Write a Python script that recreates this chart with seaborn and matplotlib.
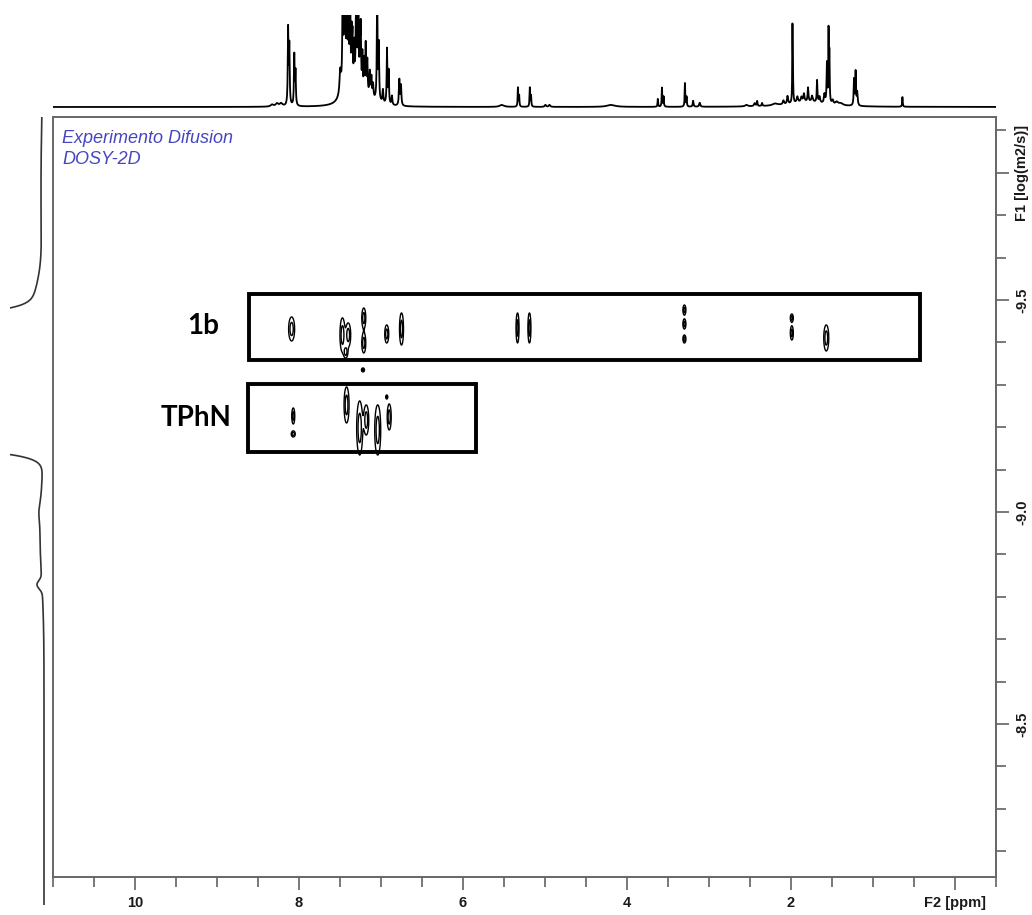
import numpy as np
import pandas as pd
import seaborn as sns
import matplotlib
matplotlib.use("Agg")
import matplotlib.pyplot as plt
from matplotlib.patches import Rectangle

# ---------------- data ----------------
# 1H spectrum (top trace): line positions (ppm), heights, half-widths (ppm)
h_ppm = [8.33, 8.27, 8.22, 8.135, 8.12, 8.06, 8.045,
         7.50, 7.47, 7.45, 7.44, 7.42, 7.40, 7.38, 7.36, 7.35, 7.33, 7.31, 7.30,
         7.28, 7.26, 7.25, 7.23, 7.21, 7.19, 7.17, 7.14, 7.12, 7.10, 7.05, 7.03,
         6.98, 6.93, 6.91, 6.87, 6.78, 6.76,
         7.45, 7.32, 7.18, 7.05,
         5.53, 5.335, 5.32, 5.19, 5.175, 5.00, 4.95, 4.20,
         3.63, 3.58, 3.56, 3.30, 3.28, 3.20, 3.12,
         2.55, 2.45, 2.42, 2.36, 2.20, 2.10, 2.05, 1.99, 1.985, 1.93, 1.88,
         1.85, 1.80, 1.75, 1.69, 1.66, 1.60, 1.57, 1.55, 1.54, 1.50, 1.45,
         1.40, 1.80, 1.24, 1.22, 1.20, 0.65]
h_height = [2, 3, 3, 76, 58, 50, 33,
            22, 110, 100, 60, 120, 90, 110, 50, 45, 40, 50, 75,
            110, 45, 60, 38, 32, 48, 32, 24, 20, 14, 110, 55,
            13, 55, 33, 9, 26, 20,
            20, 13, 8, 3,
            2, 19, 11, 19, 11, 2, 2, 2,
            8, 19, 10, 24, 10, 6, 4,
            1.5, 3, 5, 3, 2, 4, 8, 72, 30, 6, 5,
            8, 14, 6, 22, 6, 9, 40, 72, 50, 4, 3,
            2, 5, 26, 34, 13, 10]
h_width = [0.02, 0.02, 0.02, 0.005, 0.005, 0.005, 0.005,
           0.01, 0.005, 0.005, 0.005, 0.005, 0.005, 0.005, 0.005, 0.005, 0.005, 0.005, 0.005,
           0.005, 0.005, 0.005, 0.005, 0.005, 0.005, 0.005, 0.006, 0.006, 0.006, 0.005, 0.005,
           0.006, 0.005, 0.005, 0.006, 0.006, 0.006,
           0.05, 0.06, 0.06, 0.08,
           0.03, 0.004, 0.004, 0.004, 0.004, 0.01, 0.01, 0.06,
           0.004, 0.004, 0.004, 0.004, 0.004, 0.006, 0.008,
           0.02, 0.01, 0.005, 0.006, 0.04, 0.01, 0.008, 0.003, 0.004, 0.01, 0.01,
           0.008, 0.006, 0.01, 0.005, 0.008, 0.008, 0.005, 0.003, 0.004, 0.01, 0.02,
           0.03, 0.25, 0.005, 0.005, 0.006, 0.004]

# DOSY cross peaks: ppm, log D, spread in log D, spread in ppm
c_ppm = [8.09, 7.47, 7.40, 7.43, 7.21, 7.21, 6.93, 6.75, 5.335, 5.19,
         3.30, 3.30, 3.30, 1.99, 1.99, 1.57, 7.22,
         8.07, 8.07, 7.42, 7.26, 7.18, 7.04, 6.90, 6.93]
c_logd = [-9.4316, -9.4175, -9.4175, -9.3774, -9.4575, -9.3986, -9.4198, -9.4316, -9.434, -9.434,
          -9.4764, -9.4434, -9.408, -9.4575, -9.4222, -9.4104, -9.335,
          -9.2264, -9.184, -9.2524, -9.1981, -9.217, -9.1934, -9.2241, -9.2712]
c_sd = [0.0183, 0.0259, 0.0183, 0.0091, 0.0152, 0.0152, 0.0137, 0.0244, 0.0228, 0.0228,
        0.0076, 0.0076, 0.0061, 0.0061, 0.0107, 0.0198, 0.0030,
        0.0122, 0.0046, 0.0274, 0.0411, 0.0228, 0.0381, 0.0198, 0.0030]
c_sp = [0.0236, 0.0197, 0.0197, 0.0157, 0.0157, 0.0157, 0.0157, 0.0157, 0.0118, 0.0118,
        0.0118, 0.0118, 0.0118, 0.0118, 0.0118, 0.0197, 0.0118,
        0.0118, 0.0157, 0.0197, 0.0236, 0.0197, 0.0236, 0.0157, 0.0079]

# F1 projection (left trace): log D centre, width, amplitude
p_logd = [-9.4057, -9.4528, -9.76, -9.304, -9.2028, -8.95, -8.828, -9.0]
p_sd = [0.0283, 0.066, 0.21, 0.05, 0.0283, 0.106, 0.0094, 0.02]
p_amp = [600, 12, 3, 300, 600, 4, 5, 1.5]

# species boxes (ppm left, ppm right, logD top, logD bottom) and labels
species = ["1b", "TPhN"]
box_ppm_left = [8.613, 8.625]
box_ppm_right = [0.428, 5.836]
box_logd_top = [-9.514, -9.302]
box_logd_bottom = [-9.358, -9.142]
label_ppm = [9.17, 9.25]
label_logd = [-9.439, -9.222]

x_ticks = [10, 8, 6, 4, 2, 0]
x_ticklabels = ["10", "8", "6", "4", "2", "F2 [ppm]"]
y_ticks = [-9.8, -9.5, -9.0, -8.5]
y_ticklabels = ["F1 [log(m2/s)]", "-9.5", "-9.0", "-8.5"]

XLIM = (11.0, -0.49)
YTOP, YBOT = -9.9316, -8.139

# ---------------- derived traces ----------------
ppm_axis = np.linspace(XLIM[1], XLIM[0], 7000)
spec = np.zeros_like(ppm_axis)
for c, h, w in zip(h_ppm, h_height, h_width):
    spec += h / (1 + ((ppm_axis - c) / w) ** 2)
spec_df = pd.DataFrame({"ppm": ppm_axis, "I": spec})

logd_axis = np.linspace(-9.928, -8.075, 3000)
proj = np.zeros_like(logd_axis)
for c, s, a in zip(p_logd, p_sd, p_amp):
    proj += a * np.exp(-0.5 * ((logd_axis - c) / s) ** 2)
proj_df = pd.DataFrame({"logd": logd_axis, "I": proj})

gp = np.linspace(0.3, 8.8, 4200)
gd = np.linspace(-9.53, -9.12, 520)
PP, DD = np.meshgrid(gp, gd)
Z = np.zeros_like(PP)
for cp, cd, sd, sp in zip(c_ppm, c_logd, c_sd, c_sp):
    Z += np.exp(-0.5 * (((PP - cp) / sp) ** 2 + ((DD - cd) / sd) ** 2))

# ---------------- figure ----------------
sns.set_theme(style="white")
plt.rcParams["font.family"] = ["Liberation Sans", "DejaVu Sans"]

W, H = 1032, 915
fig = plt.figure(figsize=(W / 100, H / 100), dpi=100)

def fr(x0, y0, x1, y1):
    return [x0 / W, 1 - y1 / H, (x1 - x0) / W, (y1 - y0) / H]

ax = fig.add_axes(fr(53, 117, 996, 877))
ax_top = fig.add_axes(fr(53, 15, 996, 110))
ax_left = fig.add_axes(fr(10, 117, 50, 905))

# main contour plot
ax.contour(PP, DD, Z, levels=[0.3, 0.7], colors="black", linewidths=1.0)
ax.set_xlim(*XLIM)
ax.set_ylim(YBOT, YTOP)

for i in range(len(species)):
    x0 = box_ppm_right[i]
    wdt = box_ppm_left[i] - box_ppm_right[i]
    y0 = box_logd_top[i]
    hgt = box_logd_bottom[i] - box_logd_top[i]
    ax.add_patch(Rectangle((x0, y0), wdt, hgt, fill=False, ec="black", lw=2.8, zorder=5))
    ax.text(label_ppm[i], label_logd[i], species[i], family=["Lato", "DejaVu Sans"],
            fontweight="bold", fontsize=20, ha="center", va="center", color="black")

ax.text(0.0095, 0.983, "Experimento Difusion\nDOSY-2D", transform=ax.transAxes,
        ha="left", va="top", fontsize=13, fontstyle="italic", color="#4646c0",
        linespacing=1.3)

ax.set_xticks(x_ticks)
ax.set_xticklabels(x_ticklabels)
ax.set_xticks(np.arange(-0.5, 11.01, 0.5), minor=True)
ax.yaxis.tick_right()
ax.set_yticks(y_ticks)
ax.set_yticklabels(y_ticklabels, rotation=90, va="center")
ax.set_yticks(np.round(np.arange(-9.9, -8.15, 0.1), 1), minor=True)
ax.tick_params(axis="both", which="major", length=9, width=1.1, color="#555555",
               direction="out", labelsize=10.5, labelcolor="#1a1a1a")
ax.tick_params(axis="both", which="minor", length=7, width=1.1, color="#555555",
               direction="out")
ax.tick_params(axis="x", which="major", pad=5)
ax.tick_params(axis="y", which="major", pad=5)
ax.tick_params(bottom=True, right=True, left=False, top=False, which="both")
for lab in ax.get_xticklabels() + ax.get_yticklabels():
    lab.set_fontweight("bold")
for sp in ax.spines.values():
    sp.set_color("#666666")
    sp.set_linewidth(1.4)
ax.set_xlabel("")
ax.set_ylabel("")

# top 1D trace
sns.lineplot(data=spec_df, x="ppm", y="I", ax=ax_top, color="black", lw=1.3,
             estimator=None, sort=False)
ax_top.set_xlim(*XLIM)
ax_top.set_ylim(-3, 92)
ax_top.axis("off")

# left projection
sns.lineplot(data=proj_df, x="I", y="logd", ax=ax_left, color="#333333", lw=1.2,
             estimator=None, sort=False, orient="y")
ax_left.set_xlim(34, -6)
ax_left.set_ylim(-8.075, -9.928)
ax_left.axis("off")

fig.savefig("out.png", dpi=100)
